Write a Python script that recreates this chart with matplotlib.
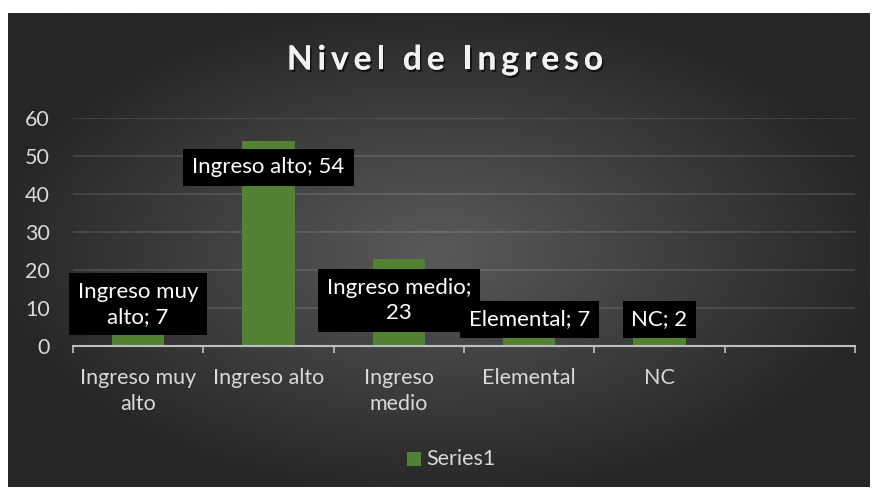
import numpy as np
import matplotlib.pyplot as plt
import matplotlib.patheffects as pe
from matplotlib.patches import Rectangle

# Data
categories = ['Ingreso muy\nalto', 'Ingreso alto', 'Ingreso\nmedio', 'Elemental', 'NC', '']
values = [7, 54, 23, 7, 2]
label_texts = ['Ingreso muy\nalto; 7', 'Ingreso alto; 54', 'Ingreso medio;\n23', 'Elemental; 7', 'NC; 2']
label_y = [11, 47, 12, 7, 7]  # where Excel put each data label box
title = 'Nivel de Ingreso'

bar_color = '#548235'
font = 'Lato'
fs = 15.5
plt.rcParams['font.family'] = [font, 'DejaVu Sans']

W, H = 876, 491
fig = plt.figure(figsize=(W / 100, H / 100), dpi=100, facecolor='white')

# radial gradient background
bg = fig.add_axes([8 / W, 4 / H, 862 / W, 474 / H])
gx, gy = np.meshgrid(np.linspace(-1, 1, 400), np.linspace(-1, 1, 220))
r = np.clip(np.sqrt((gx * 0.95) ** 2 + (gy * 0.95) ** 2), 0, 1)
inner = np.array([0x5a, 0x5a, 0x5a]) / 255
outer = np.array([0x26, 0x26, 0x26]) / 255
img = inner[None, None, :] * (1 - r[..., None]) + outer[None, None, :] * r[..., None]
bg.imshow(img, aspect='auto', extent=[0, 1, 0, 1], interpolation='bilinear')
bg.axis('off')

# main plot area
ax = fig.add_axes([73 / W, (H - 346) / H, 782 / W, 228 / H])
ax.patch.set_alpha(0)
x = np.arange(len(values))
ax.bar(x, values, width=0.4, color=bar_color, zorder=2)

ax.set_xlim(-0.5, len(categories) - 0.5)
ax.set_ylim(0, 60)
ax.set_yticks(range(0, 61, 10))
ax.yaxis.grid(True, color='white', alpha=0.12, linewidth=1.3, zorder=0)
ax.tick_params(axis='y', length=0, pad=16.5, labelsize=fs, labelcolor='#d9d9d9')

# category boundaries carry tick marks, names sit in between
ax.set_xticks(np.arange(-0.5, len(categories)), labels=[])
ax.set_xticks(np.arange(len(categories)), labels=categories, minor=True)
ax.tick_params(axis='x', which='major', length=5, width=1.2, color='#bfbfbf', direction='out')
ax.tick_params(axis='x', which='minor', length=0, pad=16, labelsize=fs, labelcolor='#d9d9d9')
for lbl in ax.get_xticklabels(minor=True):
    lbl.set_linespacing(1.35)

for s in ['top', 'right', 'left']:
    ax.spines[s].set_visible(False)
ax.spines['bottom'].set_color('#bfbfbf')
ax.spines['bottom'].set_linewidth(1.5)
ax.spines['bottom'].set_zorder(3)

# data labels in black boxes
for xi, txt, ly in zip(x, label_texts, label_y):
    ax.text(xi, ly, txt, ha='center', va='center', color='white', fontsize=fs + 0.5,
            linespacing=1.3, zorder=4,
            bbox=dict(boxstyle='square,pad=0.4', facecolor='black', edgecolor='none'))

# title, drawn letter by letter to get the wide spacing
renderer = fig.canvas.get_renderer()
spacing = 5.0 / W
tprops = dict(color='#f2f2f2', fontsize=24, fontweight='bold', va='center', ha='left')

def text_width(s):
    t = fig.text(0, 0, s, **tprops)
    w = t.get_window_extent(renderer).width / W
    t.remove()
    return w

total = text_width(title) + spacing * (len(title) - 1)
x0 = 445 / W - total / 2
shadow = [pe.withSimplePatchShadow(offset=(1.2, -1.8), shadow_rgbFace='black', alpha=0.6), pe.Normal()]
for i, ch in enumerate(title):
    xpos = x0 + (text_width(title[:i]) if i else 0) + spacing * i
    fig.text(xpos, 1 - 60 / H, ch, path_effects=shadow, **tprops)

# legend
fig.patches.append(Rectangle((407 / W, 1 - 466 / H), 14 / W, 14 / H,
                             transform=fig.transFigure, facecolor=bar_color, edgecolor='none'))
fig.text(426 / W, 1 - 459 / H, 'Series1', ha='left', va='center', color='#d9d9d9', fontsize=fs)

fig.savefig('out.png', dpi=100, facecolor='white')
